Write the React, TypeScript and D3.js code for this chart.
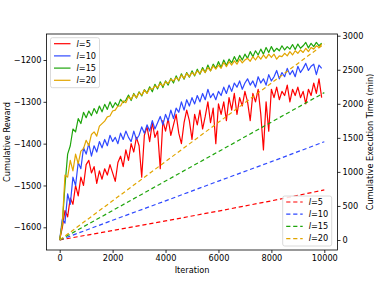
import React, { useEffect, useRef } from 'react';
import * as d3 from 'd3';

// iterations sampled every 100 steps
const iterations = d3.range(0, 10000, 100);

const rewardL5 = [
  -1630, -1600, -1560, -1575, -1530, -1545, -1500, -1525, -1480, -1500,
  -1450, -1440, -1470, -1455, -1495, -1465, -1485, -1460, -1475, -1450,
  -1470, -1490, -1445, -1430, -1455, -1415, -1440, -1400, -1420, -1385,
  -1405, -1480, -1380, -1360, -1395, -1350, -1385, -1370, -1460, -1345,
  -1370, -1340, -1380, -1355, -1330, -1375, -1400, -1350, -1320, -1345,
  -1390, -1330, -1355, -1320, -1365, -1335, -1300, -1350, -1315, -1400,
  -1305, -1330, -1300, -1345, -1290, -1320, -1280, -1330, -1290, -1310,
  -1275, -1300, -1345, -1280, -1300, -1270, -1330, -1415, -1300, -1370,
  -1270, -1290, -1265, -1295, -1275, -1285, -1260, -1300, -1270, -1285,
  -1265, -1290, -1275, -1305, -1270, -1285, -1255, -1280, -1245, -1290,
];

const rewardL10 = [
  -1630, -1580, -1590, -1520, -1545, -1480, -1500, -1445, -1460, -1410,
  -1425, -1400, -1430, -1405, -1420, -1395, -1410, -1390, -1405, -1380,
  -1395, -1385, -1400, -1375, -1390, -1370, -1385, -1395, -1370, -1390,
  -1380, -1360, -1375, -1355, -1370, -1345, -1365, -1350, -1335, -1355,
  -1330, -1345, -1320, -1340, -1315, -1325, -1300, -1320, -1295, -1310,
  -1290, -1305, -1285, -1300, -1280, -1295, -1270, -1290, -1280, -1295,
  -1275, -1285, -1265, -1280, -1260, -1275, -1255, -1265, -1250, -1270,
  -1255, -1245, -1260, -1250, -1265, -1240, -1255, -1245, -1260, -1235,
  -1250, -1240, -1225, -1245, -1230, -1240, -1220, -1235, -1225, -1240,
  -1215, -1230, -1220, -1208, -1225, -1215, -1210, -1235, -1212, -1220,
];

const rewardL15 = [
  -1630, -1590, -1500, -1425, -1405, -1365, -1372, -1340, -1352, -1325,
  -1338, -1322, -1333, -1316, -1328, -1310, -1324, -1306, -1318, -1300,
  -1314, -1302, -1310, -1294, -1302, -1296, -1284, -1297, -1280, -1291,
  -1276, -1286, -1271, -1279, -1264, -1276, -1258, -1269, -1252, -1266,
  -1250, -1260, -1244, -1255, -1238, -1250, -1233, -1246, -1230, -1241,
  -1226, -1238, -1222, -1234, -1218, -1230, -1212, -1226, -1210, -1220,
  -1204, -1218, -1200, -1213, -1198, -1207, -1192, -1204, -1189, -1200,
  -1186, -1196, -1180, -1192, -1178, -1188, -1174, -1186, -1170, -1182,
  -1168, -1180, -1172, -1178, -1166, -1176, -1168, -1174, -1163, -1175,
  -1162, -1172, -1166, -1158, -1171, -1160, -1168, -1158, -1166, -1160,
];

const rewardL20 = [
  -1630, -1590, -1475, -1480, -1440, -1465, -1425, -1448, -1418, -1412,
  -1392, -1405, -1378, -1372, -1382, -1358, -1352, -1346, -1336, -1334,
  -1322, -1320, -1310, -1310, -1298, -1302, -1288, -1294, -1282, -1290,
  -1278, -1284, -1272, -1280, -1268, -1270, -1262, -1266, -1256, -1262,
  -1252, -1256, -1246, -1250, -1242, -1248, -1236, -1244, -1232, -1240,
  -1230, -1236, -1226, -1232, -1222, -1230, -1218, -1226, -1214, -1222,
  -1212, -1220, -1206, -1216, -1204, -1212, -1202, -1210, -1198, -1207,
  -1200, -1196, -1203, -1192, -1200, -1190, -1198, -1188, -1196, -1186,
  -1194, -1186, -1198, -1190, -1192, -1184, -1190, -1180, -1188, -1178,
  -1184, -1176, -1182, -1172, -1180, -1170, -1174, -1166, -1170, -1162,
];

// execution time (min), dashed lines
const timeIterations = [0, 2000, 4000, 6000, 8000, 10000];
const timeL5 = [0, 140, 280, 425, 575, 735];
const timeL10 = [0, 290, 575, 865, 1150, 1443];
const timeL15 = [0, 433, 866, 1298, 1731, 2164];
const timeL20 = [0, 576, 1152, 1728, 2304, 2880];

const labels = ['5', '10', '15', '20'];
const colors = ['#ff0000', '#2e48ff', '#1fa50c', '#e2a500'];

const xTicks = [0, 2000, 4000, 6000, 8000, 10000];
const leftTicks = [-1600, -1500, -1400, -1300, -1200];
const rightTicks = [0, 500, 1000, 1500, 2000, 2500, 3000];

const W = 374;
const H = 281;
const FONT = 'DejaVu Sans, sans-serif';

export default function App() {
  const ref = useRef<SVGSVGElement>(null);

  useEffect(() => {
    const svg = d3.select(ref.current);
    svg.selectAll('*').remove();

    const left = 46.5, right = 337.5, top = 34, bottom = 250;

    const x = d3.scaleLinear().domain([0, 10000]).range([59.7, 324.3]);
    const yL = d3.scaleLinear().domain([-1600, -1200]).range([227.3, 60]);
    const yR = d3.scaleLinear().domain([0, 3000]).range([240, 35.7]);

    const g = svg.append('g');

    const clip = svg.append('clipPath').attr('id', 'plot');
    clip.append('rect')
      .attr('x', left).attr('y', top)
      .attr('width', right - left).attr('height', bottom - top);

    const plot = g.append('g').attr('clip-path', 'url(#plot)');

    const rewards = [rewardL5, rewardL10, rewardL15, rewardL20];
    const times = [timeL5, timeL10, timeL15, timeL20];

    const solid = d3.line<number>()
      .x((_, i) => x(iterations[i]))
      .y(d => yL(d));
    const dashed = d3.line<number>()
      .x((_, i) => x(timeIterations[i]))
      .y(d => yR(d));

    rewards.forEach((r, k) => {
      plot.append('path')
        .attr('d', solid(r))
        .attr('fill', 'none')
        .attr('stroke', colors[k])
        .attr('stroke-width', 1.2)
        .attr('stroke-linejoin', 'round');
    });

    times.forEach((t, k) => {
      plot.append('path')
        .attr('d', dashed(t))
        .attr('fill', 'none')
        .attr('stroke', colors[k])
        .attr('stroke-width', 1.2)
        .attr('stroke-dasharray', '4.2,2.8');
    });

    // axes
    const xAxis = d3.axisBottom(x).tickValues(xTicks).tickSize(3).tickPadding(2).tickFormat(d3.format('d'));
    const yAxisL = d3.axisLeft(yL).tickValues(leftTicks).tickSize(3).tickPadding(2)
      .tickFormat(d => String(d).replace('-', '\u2212'));
    const yAxisR = d3.axisRight(yR).tickValues(rightTicks).tickSize(3).tickPadding(2).tickFormat(d3.format('d'));

    const styleAxis = (sel: any) => {
      sel.select('.domain').remove();
      sel.selectAll('line').attr('stroke', '#000').attr('stroke-width', 0.8);
      sel.selectAll('text').attr('font-family', FONT).attr('font-size', 8.2).attr('fill', '#000');
    };

    g.append('g').attr('transform', `translate(0,${bottom})`).call(xAxis).call(styleAxis);
    g.append('g').attr('transform', `translate(${left},0)`).call(yAxisL).call(styleAxis);
    g.append('g').attr('transform', `translate(${right},0)`).call(yAxisR).call(styleAxis);

    // frame
    g.append('rect')
      .attr('x', left).attr('y', top)
      .attr('width', right - left).attr('height', bottom - top)
      .attr('fill', 'none').attr('stroke', '#000').attr('stroke-width', 0.8);

    // axis titles
    g.append('text')
      .attr('x', (left + right) / 2).attr('y', 273)
      .attr('text-anchor', 'middle')
      .attr('font-family', FONT).attr('font-size', 8.2)
      .text('Iteration');
    g.append('text')
      .attr('transform', `translate(10,${(top + bottom) / 2}) rotate(-90)`)
      .attr('text-anchor', 'middle')
      .attr('font-family', FONT).attr('font-size', 8.2)
      .text('Cumulative Reward');
    g.append('text')
      .attr('transform', `translate(367,${(top + bottom) / 2}) rotate(-90)`)
      .attr('text-anchor', 'middle')
      .attr('dominant-baseline', 'hanging')
      .attr('font-family', FONT).attr('font-size', 8.2)
      .text('Cumulative Execution Time (min)');

    // legends
    const legend = (bx: number, by: number, dash: boolean) => {
      const lg = g.append('g').attr('transform', `translate(${bx},${by})`);
      lg.append('rect')
        .attr('width', 49).attr('height', 50).attr('rx', 2)
        .attr('fill', '#fff').attr('fill-opacity', 0.85)
        .attr('stroke', '#d0d0d0').attr('stroke-width', 0.8);
      labels.forEach((lab, i) => {
        const yy = 6 + i * 12.2;
        lg.append('line')
          .attr('x1', 3.5).attr('x2', 20).attr('y1', yy).attr('y2', yy)
          .attr('stroke', colors[i]).attr('stroke-width', 1.2)
          .attr('stroke-dasharray', dash ? '4.2,2.8' : null);
        const t = lg.append('text')
          .attr('x', 26).attr('y', yy).attr('dy', '0.35em')
          .attr('font-family', FONT).attr('font-size', 8.2);
        t.append('tspan').attr('font-style', 'italic').text('l');
        t.append('tspan').text('=' + lab);
      });
    };
    legend(50.5, 37.7, false);
    legend(282.7, 196, true);
  }, []);

  return (
    <svg
      ref={ref}
      width={W}
      height={H}
      style={{ position: 'absolute', left: 0, top: 0, background: '#fff' }}
    />
  );
}
